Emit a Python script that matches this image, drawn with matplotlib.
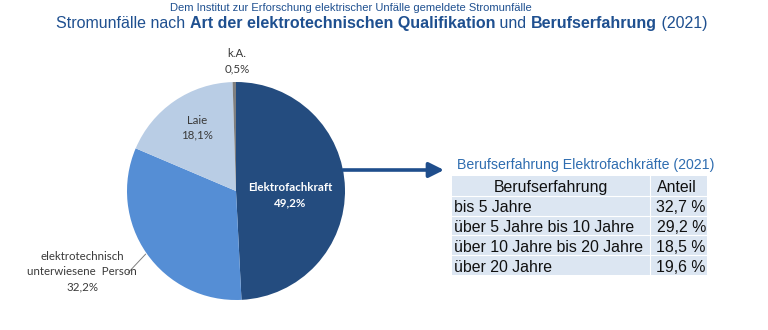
import matplotlib
matplotlib.use("Agg")
import matplotlib.pyplot as plt
from matplotlib.patches import Rectangle

# Anteile nach Qualifikation (Uhrzeigersinn ab 12 Uhr)
qual_labels = ["Elektrofachkraft", "elektrotechnisch\nunterwiesene  Person", "Laie", "k.A."]
qual_shares = [49.2, 32.2, 18.1, 0.5]
qual_colors = ["#244C7F", "#558ED5", "#B9CDE5", "#7F7F7F"]

# Tabelle Berufserfahrung
exp_header = ["Berufserfahrung", "Anteil"]
exp_labels = ["bis 5 Jahre", "über 5 Jahre bis 10 Jahre",
              "über 10 Jahre bis 20 Jahre", "über 20 Jahre"]
exp_shares = [32.7, 29.2, 18.5, 19.6]

W, H = 768, 330
fig = plt.figure(figsize=(W / 100, H / 100), dpi=100)
fig.patch.set_facecolor("white")

# --- Kreisdiagramm ---
cx, cy, r = 236, 191, 109
pax = fig.add_axes([(cx - r) / W, (H - cy - r) / H, 2 * r / W, 2 * r / H])
pax.pie(qual_shares, colors=qual_colors, startangle=90, counterclock=False,
        radius=1.0, wedgeprops=dict(linewidth=0))
pax.set_xlim(-1, 1)
pax.set_ylim(-1, 1)
pax.set_aspect("equal")
pax.axis("off")

lab_font = "Lato"
lab_pos = [(0.50, -0.04), (-1.41, -0.74), (-0.36, 0.58), (0.01, 1.19)]
for i, (lab, val) in enumerate(zip(qual_labels, qual_shares)):
    x, y = lab_pos[i]
    pct = f"{val:.1f}%".replace(".", ",")
    bold = i == 0
    pax.text(x, y, f"{lab}\n{pct}", ha="center", va="center", fontsize=8.3,
             family=lab_font, fontweight="bold" if bold else "normal",
             color="white" if bold else "#3A3A3A", linespacing=1.45,
             clip_on=False)
pax.plot([-0.83, -0.99], [-0.58, -0.75], color="#7F7F7F", lw=0.7,
         clip_on=False)

# --- Overlay in Pixelkoordinaten ---
ov = fig.add_axes([0, 0, 1, 1])
ov.set_xlim(0, W)
ov.set_ylim(H, 0)
ov.axis("off")
ov.patch.set_alpha(0)

title_col = "#1F5090"
ov.text(351, 8, "Dem Institut zur Erforschung elektrischer Unfälle gemeldete Stromunfälle",
        ha="center", va="center", fontsize=8.0, family="Liberation Sans",
        color=title_col)

parts = [("Stromunfälle nach ", "normal"), ("Art der elektrotechnischen Qualifikation", "bold"),
         (" und ", "normal"), ("Berufserfahrung", "bold"), (" (2021)", "normal")]
prev = None
for s, w in parts:
    kw = dict(fontsize=11.5, family="Liberation Sans", fontweight=w,
              color=title_col, ha="left", va="bottom")
    if prev is None:
        prev = ov.text(56, 31, s, **kw)
    else:
        prev = ov.annotate(s, xy=(1, 0), xycoords=prev, **kw)

# Pfeil zur Tabelle
ov.annotate("", xy=(444, 170), xytext=(343, 170),
            arrowprops=dict(arrowstyle="-|>,head_length=0.9,head_width=0.45",
                            color="#1F4E8C", lw=2.6, shrinkA=0, shrinkB=0))

# Tabelle
tx0, tx1, tcol = 452, 707, 650
ty0, rh = 176, 19.8
ov.text(457, 165, "Berufserfahrung Elektrofachkräfte (2021)", ha="left",
        va="center", fontsize=10.2, family="Liberation Sans", color="#2F6DB0")
n_rows = len(exp_labels) + 1
ov.add_patch(Rectangle((tx0, ty0), tx1 - tx0, rh * n_rows,
                       facecolor="#DCE6F2", edgecolor="none"))
for k in range(1, n_rows):
    ov.plot([tx0, tx1], [ty0 + k * rh] * 2, color="white", lw=0.8)
ov.plot([tcol, tcol], [ty0, ty0 + rh * n_rows], color="white", lw=0.8)

tkw = dict(fontsize=11.4, family="Liberation Sans", color="#111111", va="center")
dy = 2
ov.text((tx0 + tcol) / 2, ty0 + rh / 2 + dy, exp_header[0], ha="center", **tkw)
ov.text(657, ty0 + rh / 2 + dy, exp_header[1], ha="left", **tkw)
for i, (lab, val) in enumerate(zip(exp_labels, exp_shares)):
    yy = ty0 + rh * (i + 1.5) + dy
    ov.text(454, yy, lab, ha="left", **tkw)
    ov.text(706, yy, f"{val:.1f} %".replace(".", ","), ha="right", **tkw)

fig.savefig("out.png", dpi=100, facecolor="white")
